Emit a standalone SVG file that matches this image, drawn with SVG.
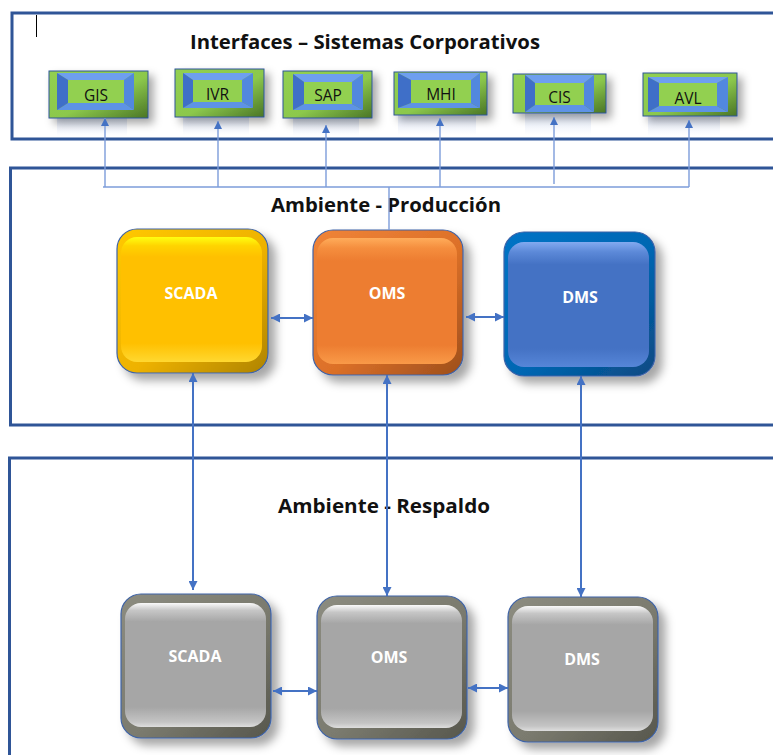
<svg xmlns="http://www.w3.org/2000/svg" width="773" height="755" viewBox="0 0 773 755">
<style>
.panel{fill:#fff;stroke:#2F5597;stroke-width:3}
.title{font-family:"Open Sans","Noto Sans","Liberation Sans",sans-serif;font-weight:bold;font-size:19px;fill:#111}
.lbl{font-family:"Open Sans","Noto Sans","Liberation Sans",sans-serif;font-weight:bold;font-size:16px;fill:#fff;text-anchor:middle}
.ilbl{font-family:"Open Sans","Noto Sans","Liberation Sans",sans-serif;font-size:15.5px;fill:#111;text-anchor:middle}
.iout{fill:url(#gGreen);stroke:#2F5597;stroke-width:1}
.bt{fill:#6E9FEF}.br{fill:#5288DE}.bb{fill:#5E93E6}.bl{fill:#3F6FC8}
.iin{fill:#92D050}
.refl{fill:url(#gRefl)}
.nout{stroke:#3E63A8;stroke-width:1.2}
.c{fill:none;stroke:#4472C4;stroke-width:2}
.ct{fill:none;stroke:#7C9CDA;stroke-width:1.4}
</style>
<defs>
<filter id="sh" x="-20%" y="-20%" width="150%" height="150%">
<feDropShadow dx="7" dy="7" stdDeviation="5" flood-color="#000" flood-opacity="0.35"/>
</filter>
<filter id="shs" x="-20%" y="-30%" width="150%" height="170%">
<feDropShadow dx="5" dy="5" stdDeviation="4" flood-color="#000" flood-opacity="0.35"/>
</filter>
<linearGradient id="gGreen" x1="0" y1="0" x2="1" y2="1">
<stop offset="0" stop-color="#92D050"/><stop offset="0.55" stop-color="#8CC84C"/><stop offset="1" stop-color="#4A7526"/>
</linearGradient>
<linearGradient id="gRefl" x1="0" y1="0" x2="0" y2="1">
<stop offset="0" stop-color="#B8C8EC" stop-opacity="0.45"/><stop offset="1" stop-color="#B8C8EC" stop-opacity="0"/>
</linearGradient>
<linearGradient id="gScO" x1="0" y1="0" x2="1" y2="1">
<stop offset="0" stop-color="#FFC800"/><stop offset="0.55" stop-color="#EEB200"/><stop offset="1" stop-color="#AE8300"/>
</linearGradient>
<linearGradient id="gScF" x1="0" y1="0" x2="0" y2="1">
<stop offset="0" stop-color="#FFFF10"/><stop offset="0.07" stop-color="#FFD400"/><stop offset="0.16" stop-color="#FFC000"/><stop offset="0.85" stop-color="#FFC000"/><stop offset="1" stop-color="#FFD830"/>
</linearGradient>
<linearGradient id="gOmO" x1="0" y1="0" x2="1" y2="1">
<stop offset="0" stop-color="#F08438"/><stop offset="0.55" stop-color="#DC7028"/><stop offset="1" stop-color="#9C4E1C"/>
</linearGradient>
<linearGradient id="gOmF" x1="0" y1="0" x2="0" y2="1">
<stop offset="0" stop-color="#FFAC5A"/><stop offset="0.08" stop-color="#F58E3E"/><stop offset="0.18" stop-color="#ED7D31"/><stop offset="0.85" stop-color="#ED7D31"/><stop offset="1" stop-color="#F99A48"/>
</linearGradient>
<linearGradient id="gDmO" x1="0" y1="0" x2="1" y2="1">
<stop offset="0" stop-color="#0074C6"/><stop offset="0.55" stop-color="#0066B2"/><stop offset="1" stop-color="#0B4A82"/>
</linearGradient>
<linearGradient id="gDmF" x1="0" y1="0" x2="0" y2="1">
<stop offset="0" stop-color="#82AAF0"/><stop offset="0.08" stop-color="#5C89D8"/><stop offset="0.18" stop-color="#4472C4"/><stop offset="0.85" stop-color="#4472C4"/><stop offset="1" stop-color="#5686D8"/>
</linearGradient>
<linearGradient id="gGrO" x1="0" y1="0" x2="1" y2="1">
<stop offset="0" stop-color="#8C8C80"/><stop offset="0.55" stop-color="#7A7A6E"/><stop offset="1" stop-color="#56564C"/>
</linearGradient>
<linearGradient id="gGrF" x1="0" y1="0" x2="0" y2="1">
<stop offset="0" stop-color="#FAFAFA"/><stop offset="0.06" stop-color="#C6C6C6"/><stop offset="0.15" stop-color="#A6A6A6"/><stop offset="0.84" stop-color="#A6A6A6"/><stop offset="0.96" stop-color="#C4C4C4"/><stop offset="1" stop-color="#DEDEDE"/>
</linearGradient>
<marker id="ah" viewBox="0 0 10 10" refX="10" refY="5" markerWidth="9" markerHeight="9" markerUnits="userSpaceOnUse" orient="auto-start-reverse">
<path d="M0,0 L10,5 L0,10 z" fill="#4472C4"/>
</marker>
<marker id="ahs" viewBox="0 0 10 10" refX="10" refY="5" markerWidth="8" markerHeight="8" markerUnits="userSpaceOnUse" orient="auto-start-reverse">
<path d="M0,0 L10,5 L0,10 z" fill="#4472C4"/>
</marker>
</defs>

<rect width="773" height="755" fill="#fff"/>

<g id="panels">
<rect class="panel" x="12" y="13" width="790" height="126"/>
<rect class="panel" x="10.5" y="168" width="790" height="257"/>
<rect class="panel" x="9.5" y="458" width="790" height="320"/>
<line x1="36.5" y1="15" x2="36.5" y2="37" stroke="#000" stroke-width="1"/>
</g>

<g id="titles">
<text class="title" x="190" y="49" textLength="350" lengthAdjust="spacingAndGlyphs">Interfaces – Sistemas Corporativos</text>
<text class="title" x="271" y="212" textLength="230" lengthAdjust="spacingAndGlyphs">Ambiente - Producción</text>
<text class="title" x="278" y="513" textLength="212" lengthAdjust="spacingAndGlyphs">Ambiente - Respaldo</text>
</g>

<g id="gis" transform="translate(49,71)">
<rect class="refl" x="8" y="47" width="70" height="18"/>
<rect class="iout" x="0" y="0" width="99" height="47" filter="url(#shs)"/>
<polygon class="bt" points="8,2 85,2 75,9 19,9"/>
<polygon class="br" points="85,2 85,39 75,32 75,9"/>
<polygon class="bb" points="8,39 85,39 75,32 19,32"/>
<polygon class="bl" points="8,2 19,9 19,32 8,39"/>
<rect class="iin" x="19" y="9" width="56" height="23"/>
<text class="ilbl" x="47" y="30">GIS</text>
</g>

<g id="ivr" transform="translate(175,69)">
<rect class="refl" x="8" y="48" width="66" height="18"/>
<rect class="iout" x="0" y="0" width="89" height="48" filter="url(#shs)"/>
<polygon class="bt" points="8,4 78,4 67,11 18,11"/>
<polygon class="br" points="78,4 78,39 67,33 67,11"/>
<polygon class="bb" points="8,39 78,39 67,33 18,33"/>
<polygon class="bl" points="8,4 18,11 18,33 8,39"/>
<rect class="iin" x="18" y="11" width="49" height="22"/>
<text class="ilbl" x="42.5" y="31">IVR</text>
</g>

<g id="sap" transform="translate(283,71)">
<rect class="refl" x="10" y="47" width="66" height="18"/>
<rect class="iout" x="0" y="0" width="89" height="47" filter="url(#shs)"/>
<polygon class="bt" points="10,3 80,3 69,11 21,11"/>
<polygon class="br" points="80,3 80,39 69,33 69,11"/>
<polygon class="bb" points="10,39 80,39 69,33 21,33"/>
<polygon class="bl" points="10,3 21,11 21,33 10,39"/>
<rect class="iin" x="21" y="11" width="48" height="22"/>
<text class="ilbl" x="45" y="30">SAP</text>
</g>

<g id="mhi" transform="translate(394,72)">
<rect class="refl" x="4" y="43" width="78" height="20"/>
<rect class="iout" x="0" y="0" width="93" height="43" filter="url(#shs)"/>
<polygon class="bt" points="4,1 86,1 77,8 17,8"/>
<polygon class="br" points="86,1 86,36 77,31 77,8"/>
<polygon class="bb" points="4,36 86,36 77,31 17,31"/>
<polygon class="bl" points="4,1 17,8 17,31 4,36"/>
<rect class="iin" x="17" y="8" width="60" height="23"/>
<text class="ilbl" x="47" y="28">MHI</text>
</g>

<g id="cis" transform="translate(513,74)">
<rect class="refl" x="12" y="39" width="66" height="22"/>
<rect class="iout" x="0" y="0" width="93" height="39" filter="url(#shs)"/>
<polygon class="bt" points="12,1 81,1 71,9 22,9"/>
<polygon class="br" points="81,1 81,38 71,31 71,9"/>
<polygon class="bb" points="12,38 81,38 71,31 22,31"/>
<polygon class="bl" points="12,1 22,9 22,31 12,38"/>
<rect class="iin" x="22" y="9" width="49" height="22"/>
<text class="ilbl" x="46.5" y="29">CIS</text>
</g>

<g id="avl" transform="translate(643,73)">
<rect class="refl" x="5" y="43" width="72" height="20"/>
<rect class="iout" x="0" y="0" width="94" height="43" filter="url(#shs)"/>
<polygon class="bt" points="5,4 85,4 74,10 16,10"/>
<polygon class="br" points="85,4 85,39 74,33 74,10"/>
<polygon class="bb" points="5,39 85,39 74,33 16,33"/>
<polygon class="bl" points="5,4 16,10 16,33 5,39"/>
<rect class="iin" x="16" y="10" width="58" height="23"/>
<text class="ilbl" x="45" y="31">AVL</text>
</g>

<g id="scada-prod">
<rect class="nout" x="117" y="229" width="151" height="144" rx="20" fill="url(#gScO)" filter="url(#sh)"/>
<rect x="121" y="237" width="141" height="125" rx="16" fill="url(#gScF)"/>
<text class="lbl" x="191" y="299">SCADA</text>
</g>

<g id="oms-prod">
<rect class="nout" x="313" y="230" width="150" height="145" rx="20" fill="url(#gOmO)" filter="url(#sh)"/>
<rect x="317" y="238" width="140" height="126" rx="16" fill="url(#gOmF)"/>
<text class="lbl" x="387" y="299">OMS</text>
</g>

<g id="dms-prod">
<rect class="nout" x="504" y="232" width="151" height="144" rx="20" fill="url(#gDmO)" filter="url(#sh)"/>
<rect x="508" y="242" width="141" height="125" rx="16" fill="url(#gDmF)"/>
<text class="lbl" x="580" y="303">DMS</text>
</g>

<g id="scada-resp">
<rect class="nout" x="121" y="594" width="150" height="144" rx="20" fill="url(#gGrO)" filter="url(#sh)"/>
<rect x="125" y="603" width="141" height="124" rx="16" fill="url(#gGrF)"/>
<text class="lbl" x="195" y="662">SCADA</text>
</g>

<g id="oms-resp">
<rect class="nout" x="317" y="596" width="150" height="143" rx="20" fill="url(#gGrO)" filter="url(#sh)"/>
<rect x="321" y="605" width="141" height="123" rx="16" fill="url(#gGrF)"/>
<text class="lbl" x="389" y="663">OMS</text>
</g>

<g id="dms-resp">
<rect class="nout" x="508" y="597" width="150" height="145" rx="20" fill="url(#gGrO)" filter="url(#sh)"/>
<rect x="512" y="606" width="141" height="125" rx="16" fill="url(#gGrF)"/>
<text class="lbl" x="582" y="665">DMS</text>
</g>

<g id="connectors">
<path class="ct" d="M103 187 H689"/>
<path class="ct" d="M105 187 V118" marker-end="url(#ahs)"/>
<path class="ct" d="M218 187 V121" marker-end="url(#ahs)"/>
<path class="ct" d="M326 187 V125" marker-end="url(#ahs)"/>
<path class="ct" d="M440 187 V118" marker-end="url(#ahs)"/>
<path class="ct" d="M554 184 V117" marker-end="url(#ahs)"/>
<path class="ct" d="M689 187 V120" marker-end="url(#ahs)"/>
<path class="ct" d="M389 187 V230"/>
<path class="c" d="M271 318 H313" marker-start="url(#ah)" marker-end="url(#ah)"/>
<path class="c" d="M466 317 H504" marker-start="url(#ah)" marker-end="url(#ah)"/>
<path class="c" d="M193 373 V590" marker-start="url(#ah)" marker-end="url(#ah)"/>
<path class="c" d="M387 375 V596" marker-start="url(#ah)" marker-end="url(#ah)"/>
<path class="c" d="M581 376 V597" marker-start="url(#ah)" marker-end="url(#ah)"/>
<path class="c" d="M273 691 H317" marker-start="url(#ah)" marker-end="url(#ah)"/>
<path class="c" d="M468 688 H508" marker-start="url(#ah)" marker-end="url(#ah)"/>
</g>
</svg>
